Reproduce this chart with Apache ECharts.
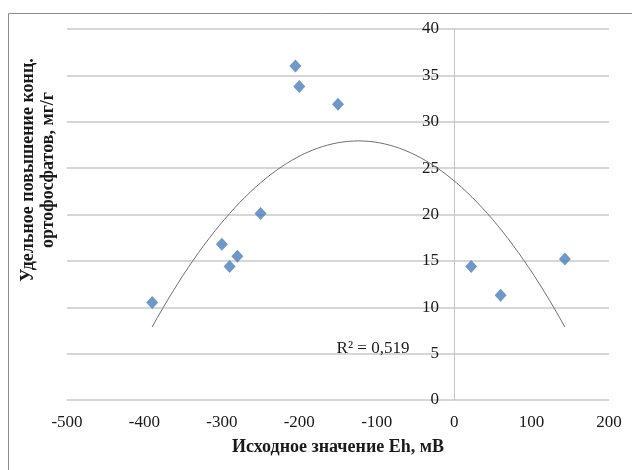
<!DOCTYPE html>
<html><head><meta charset="utf-8">
<script src="https://cdn.jsdelivr.net/npm/echarts@6/dist/echarts.min.js"></script>
<style>html,body{margin:0;padding:0;background:#fff}#c{width:632px;height:470px}</style>
</head><body><div id="c"></div>
<script>
// ---- data ----
const ehValues   = [-390, -300, -290, -280, -250, -205, -200, -150, 22, 60, 143];
const concValues = [10.5, 16.8, 14.4, 15.5, 20.1, 36.0, 33.8, 31.9, 14.4, 11.3, 15.2];
const xTickLabels = [-500, -400, -300, -200, -100, 0, 100, 200];
const yTickLabels = [0, 5, 10, 15, 20, 25, 30, 35, 40];
const r2Text = 'R² = 0,519';
const xTitle = 'Исходное значение Eh, мВ';
const yTitle = 'Удельное повышение конц.\nортофосфатов, мг/г';

// ---- quadratic least-squares trendline (as the spreadsheet trendline) ----
function polyfit2(xs, ys) {
  let s = [0,0,0,0,0], t = [0,0,0];
  for (let i = 0; i < xs.length; i++) {
    let p = 1;
    for (let k = 0; k < 5; k++) { s[k] += p; if (k < 3) t[k] += p * ys[i]; p *= xs[i]; }
  }
  const A = [[s[0], s[1], s[2], t[0]], [s[1], s[2], s[3], t[1]], [s[2], s[3], s[4], t[2]]];
  for (let c = 0; c < 3; c++) {
    for (let r = c + 1; r < 3; r++) {
      const f = A[r][c] / A[c][c];
      for (let k = c; k < 4; k++) A[r][k] -= f * A[c][k];
    }
  }
  const b = [0,0,0];
  for (let r = 2; r >= 0; r--) {
    let v = A[r][3];
    for (let k = r + 1; k < 3; k++) v -= A[r][k] * b[k];
    b[r] = v / A[r][r];
  }
  return b; // c0 + c1 x + c2 x^2
}
const coef = polyfit2(ehValues, concValues);
const fitFn = x => coef[0] + coef[1] * x + coef[2] * x * x;
const xMin = Math.min(...ehValues), xMax = Math.max(...ehValues);
const trend = [];
for (let i = 0; i <= 80; i++) { const x = xMin + (xMax - xMin) * i / 80; trend.push([x, fitFn(x)]); }

const chart = echarts.init(document.getElementById('c'), null, { renderer: 'canvas' });
const serif = '"Liberation Serif", "Times New Roman", serif';
const gridLeft = 67, gridRight = 23;
const xLo = xTickLabels[0], xHi = xTickLabels[xTickLabels.length - 1];
// shift the value axis so it sits at Eh = 0, as in the reference
const plotW = 632 - gridLeft - gridRight;
const yAxisOffset = -Math.round((0 - xLo) / (xHi - xLo) * plotW);
chart.setOption({
  animation: false,
  backgroundColor: '#fff',
  grid: { left: gridLeft, right: gridRight, top: 29, bottom: 70, containLabel: false },
  xAxis: {
    type: 'value', min: xLo, max: xHi, interval: 100,
    axisLine: { show: false }, axisTick: { show: false }, splitLine: { show: false },
    axisLabel: { fontFamily: serif, fontSize: 17, color: '#1a1a1a', margin: 14 },
    name: xTitle, nameLocation: 'middle', nameGap: 38,
    nameTextStyle: { fontFamily: serif, fontSize: 18, fontWeight: 'bold', color: '#1a1a1a' }
  },
  yAxis: {
    type: 'value', min: yTickLabels[0], max: yTickLabels[yTickLabels.length - 1], interval: 5,
    position: 'left', offset: yAxisOffset,
    axisLine: { show: true, onZero: false, lineStyle: { color: '#c4c4c4', width: 1 } },
    axisTick: { show: false },
    splitLine: { show: true, lineStyle: { color: '#d6d6d6', width: 2 } },
    axisLabel: { fontFamily: serif, fontSize: 17, color: '#1a1a1a', margin: 15 }
  },
  graphic: [
    { type: 'rect', left: 6, top: 11, shape: { width: 700, height: 520 }, style: { fill: 'none', stroke: '#8c8c8c', lineWidth: 1 }, z: 0, silent: true },
    { type: 'text', x: 38, y: 170, rotation: Math.PI / 2, style: { text: yTitle, font: 'bold 18px ' + serif, fill: '#1a1a1a', textAlign: 'center', textVerticalAlign: 'middle', lineHeight: 20 }, z: 10 },
    { type: 'text', x: 373, y: 349, style: { text: r2Text, font: '17px ' + serif, fill: '#1a1a1a', textAlign: 'center', textVerticalAlign: 'middle' }, z: 10 }
  ],
  series: [
    { type: 'line', data: trend, showSymbol: false, symbol: 'none', smooth: false,
      lineStyle: { color: '#707070', width: 1 }, z: 2, silent: true },
    { type: 'scatter', data: ehValues.map((x, i) => [x, concValues[i]]), symbol: 'diamond', symbolSize: [12, 13],
      itemStyle: { color: '#4a7ebb' }, z: 3 }
  ]
});
</script>
</body></html>
